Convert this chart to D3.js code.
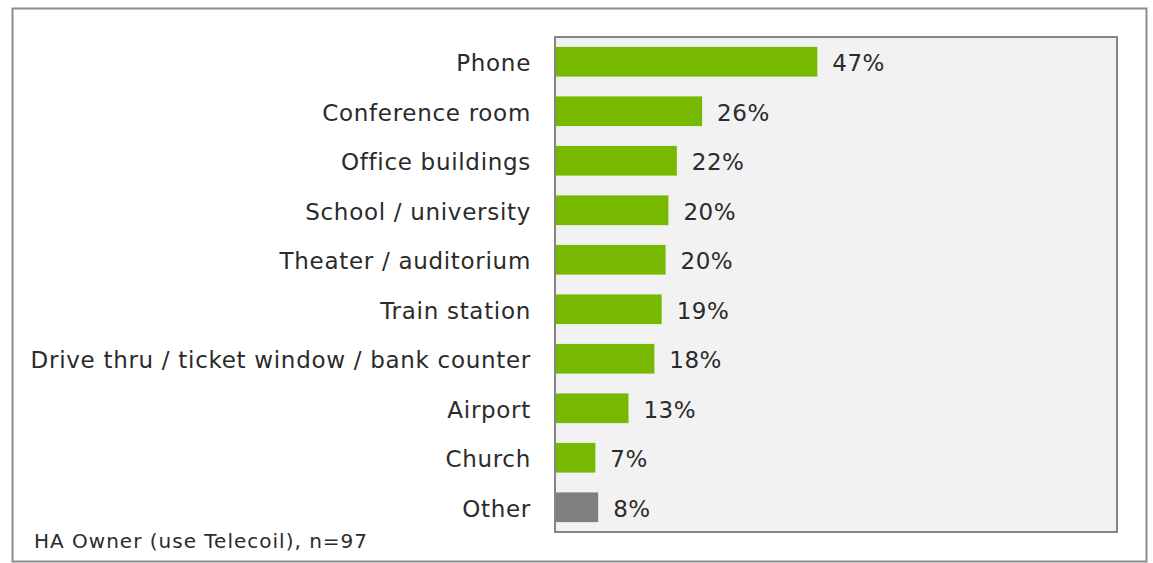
<!DOCTYPE html>
<html>
<head>
<meta charset="utf-8">
<script src="https://cdn.jsdelivr.net/npm/d3@7"></script>
<style>
  body { margin: 0; background: #fff; }
  svg text { font-family: "DejaVu Sans", Verdana, sans-serif; fill: #2b2b2b; }
</style>
</head>
<body>
<svg id="chart"></svg>
<script>
// data (bar lengths estimated, labels as printed)
const categories = ['Phone', 'Conference room', 'Office buildings', 'School / university',
  'Theater / auditorium', 'Train station', 'Drive thru / ticket window / bank counter',
  'Airport', 'Church', 'Other'];
const values = [46.5, 26, 21.5, 20, 19.5, 18.8, 17.5, 12.9, 7, 7.5];
const valueLabels = ['47%', '26%', '22%', '20%', '20%', '19%', '18%', '13%', '7%', '8%'];
const note = 'HA Owner (use Telecoil), n=97';

const width = 1153, height = 563;
const margin = {top: 37, right: 36, bottom: 31, left: 555};
const innerW = width - margin.left - margin.right;
const innerH = height - margin.top - margin.bottom;

const svg = d3.select('#chart')
  .attr('width', width)
  .attr('height', height);

// outer frame
svg.append('rect')
  .attr('x', 12.5).attr('y', 8.5)
  .attr('width', 1134).attr('height', 553)
  .attr('fill', 'none')
  .attr('stroke', '#8c8c8c')
  .attr('stroke-width', 2);

const g = svg.append('g')
  .attr('transform', `translate(${margin.left},${margin.top})`);

const x = d3.scaleLinear().domain([0, 100]).range([0, innerW]);
const y = d3.scaleBand().domain(categories).range([0, innerH]).paddingInner(0.4).paddingOuter(0.2);

// plot area
g.append('rect')
  .attr('width', innerW).attr('height', innerH)
  .attr('fill', '#f2f2f2')
  .attr('stroke', '#868686')
  .attr('stroke-width', 2);

const rows = categories.map((c, i) => ({cat: c, val: values[i], label: valueLabels[i]}));

g.selectAll('.bar')
  .data(rows)
  .join('rect')
  .attr('class', 'bar')
  .attr('x', 1)
  .attr('y', d => y(d.cat))
  .attr('width', d => x(d.val))
  .attr('height', y.bandwidth())
  .attr('fill', d => d.cat === 'Other' ? '#808080' : '#77b900');

g.selectAll('.val')
  .data(rows)
  .join('text')
  .attr('class', 'val')
  .attr('x', d => x(d.val) + 16)
  .attr('y', d => y(d.cat) + y.bandwidth() / 2)
  .attr('dy', '0.42em')
  .attr('font-size', 23)
  .attr('letter-spacing', 0.5)
  .text(d => d.label);

// category labels via left axis
const yAxis = d3.axisLeft(y).tickSize(0).tickPadding(24);
const yAxisG = g.append('g').call(yAxis);
yAxisG.select('.domain').remove();
yAxisG.selectAll('text')
  .attr('dy', '0.42em')
  .attr('font-size', 23)
  .attr('letter-spacing', 0.7)
  .attr('font-family', '"DejaVu Sans", Verdana, sans-serif')
  .attr('fill', '#2b2b2b');

svg.append('text')
  .attr('x', 34)
  .attr('y', 548)
  .attr('font-size', 20)
  .attr('letter-spacing', 1)
  .text(note);
</script>
</body>
</html>
